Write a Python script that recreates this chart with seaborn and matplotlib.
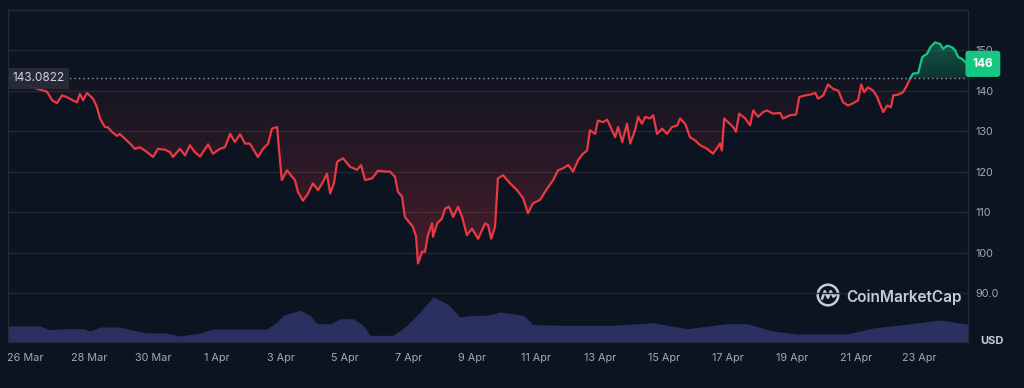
import numpy as np
import pandas as pd
import matplotlib.pyplot as plt
import matplotlib.colors as mcolors
import seaborn as sns
from matplotlib.path import Path
from matplotlib.patches import Circle

# price, days counted from 26 Mar 00:00
days = [-0.47, -0.38, -0.28, 0.00, 0.41, 0.69, 0.85, 1.00, 1.16, 1.31, 1.47, 1.63, 1.72, 1.82, 1.94,
        2.13, 2.25, 2.35, 2.50, 2.60, 2.72, 2.88, 2.97, 3.13, 3.29, 3.44, 3.60, 3.82, 4.01, 4.16,
        4.38, 4.54, 4.63, 4.85, 5.01, 5.16, 5.32, 5.48, 5.73, 5.88, 6.10, 6.26, 6.42, 6.57, 6.73,
        6.89, 7.04, 7.29, 7.45, 7.61, 7.73, 7.89, 7.98, 8.04, 8.20, 8.36, 8.45, 8.54, 8.70, 8.86,
        9.01, 9.17, 9.33, 9.45, 9.55, 9.67, 9.77, 9.95, 10.17, 10.39, 10.52, 10.64, 10.86, 11.05,
        11.27, 11.42, 11.58, 11.67, 11.80, 11.89, 12.05, 12.14, 12.24, 12.30, 12.43, 12.52, 12.61,
        12.74, 12.77, 12.90, 13.05, 13.15, 13.27, 13.40, 13.55, 13.68, 13.83, 13.99, 14.18, 14.40,
        14.49, 14.59, 14.71, 14.80, 14.96, 15.18, 15.40, 15.59, 15.74, 15.90, 16.12, 16.34, 16.53,
        16.68, 16.84, 17.00, 17.15, 17.31, 17.46, 17.59, 17.68, 17.84, 17.93, 18.09, 18.22, 18.37,
        18.47, 18.56, 18.69, 18.84, 18.94, 19.09, 19.19, 19.31, 19.41, 19.56, 19.66, 19.78, 19.94,
        20.09, 20.25, 20.41, 20.50, 20.66, 20.81, 20.97, 21.13, 21.35, 21.53, 21.75, 21.81, 21.88,
        22.00, 22.16, 22.25, 22.35, 22.54, 22.69, 22.79, 22.94, 23.10, 23.22, 23.41, 23.63, 23.72,
        23.94, 24.13, 24.23, 24.41, 24.57, 24.73, 24.82, 24.98, 25.13, 25.29, 25.45, 25.60, 25.76,
        25.92, 26.07, 26.17, 26.26, 26.38, 26.54, 26.67, 26.73, 26.86, 26.98, 27.10, 27.17, 27.32,
        27.48, 27.60, 27.70, 27.79, 27.95, 28.08, 28.23, 28.33, 28.48, 28.64, 28.73, 28.86, 29.01,
        29.11, 29.20, 29.33, 29.48]
price = [143.08, 143.9, 143.08, 141.5, 140.5, 139.8, 137.7, 137.0, 138.9, 138.5, 137.8, 137.2, 139.3,
         137.7, 139.5, 138.1, 136.1, 133.2, 131.1, 131.0, 129.9, 128.9, 129.4, 128.2, 127.0, 125.7,
         126.1, 124.9, 123.7, 125.7, 125.5, 124.9, 123.7, 125.7, 124.1, 126.6, 124.9, 123.8, 126.8,
         124.5, 125.7, 126.1, 129.4, 127.4, 129.3, 127.0, 127.0, 123.7, 125.7, 127.0, 130.7, 131.1,
         122.9, 118.0, 120.4, 118.8, 118.0, 115.1, 112.9, 114.7, 117.2, 115.5, 117.6, 119.6, 114.7,
         117.2, 122.5, 123.4, 121.3, 120.5, 121.7, 118.0, 118.4, 120.3, 120.1, 120.1, 118.8, 115.1,
         113.9, 108.9, 107.3, 106.5, 104.0, 97.4, 100.3, 100.3, 104.4, 107.3, 104.0, 107.3, 108.5,
         111.0, 111.4, 108.9, 111.4, 108.9, 104.4, 106.0, 103.5, 107.3, 106.9, 103.5, 106.5, 118.4,
         119.2, 117.2, 115.5, 113.5, 109.8, 112.3, 113.1, 115.9, 118.0, 120.4, 120.9, 121.7, 120.1,
         122.9, 124.5, 125.3, 130.3, 129.4, 132.7, 132.3, 132.9, 130.3, 128.6, 131.1, 127.4, 131.9,
         127.0, 130.3, 133.6, 131.9, 133.6, 133.2, 134.0, 129.4, 130.7, 129.4, 131.1, 131.5, 133.2,
         131.9, 128.6, 127.8, 126.6, 125.7, 124.5, 127.0, 125.3, 133.2, 132.3, 131.1, 129.9, 134.4,
         133.2, 131.5, 135.2, 133.6, 134.8, 135.2, 134.4, 134.6, 133.2, 134.0, 134.2, 138.5, 138.9,
         139.1, 139.5, 138.1, 138.9, 141.6, 140.5, 140.1, 137.2, 136.4, 137.0, 137.7, 141.6, 139.7,
         140.9, 140.1, 138.5, 137.2, 134.8, 136.4, 136.0, 138.9, 139.1, 139.7, 141.4, 143.08, 144.3,
         144.4, 148.4, 149.2, 150.8, 152.0, 151.6, 150.4, 151.2, 150.8, 150.0, 148.4, 147.9, 146.7]

open_price = 143.0822
last_label = "146"

vol_days = [-0.56, 0.47, 0.78, 1.31, 1.82, 2.03, 2.35, 2.97, 3.38, 3.82, 4.44, 4.85, 5.48, 5.88,
            7.57, 7.89, 8.08, 8.61, 8.92, 9.14, 9.55, 9.86, 10.27, 10.58, 10.80, 11.52, 11.96,
            12.36, 12.77, 13.21, 13.62, 14.02, 14.46, 14.87, 15.59, 15.90, 16.84, 18.40, 19.66,
            20.72, 21.97, 22.60, 23.41, 24.16, 25.73, 26.54, 27.39, 28.64, 29.51]
volume = [16, 16, 12.3, 13.3, 13.3, 11, 15, 15, 11.7, 9, 9, 6, 9, 13,
          13, 20, 26.7, 31.7, 26.7, 18.3, 18.3, 23.3, 23.3, 16.7, 6.7, 6.7, 16.7,
          30, 45, 38.3, 25, 26.7, 26.7, 30, 26.7, 17.3, 16.7, 16.7, 19.3,
          13.3, 18.3, 18.3, 11, 8, 8, 14, 17, 22, 17.7]

tick_days = [0, 2, 4, 6, 8, 10, 12, 14, 16, 18, 20, 22, 24, 26, 28]
tick_labels = ["26 Mar", "28 Mar", "30 Mar", "1 Apr", "3 Apr", "5 Apr", "7 Apr", "9 Apr",
               "11 Apr", "13 Apr", "15 Apr", "17 Apr", "19 Apr", "21 Apr", "23 Apr"]
price_ticks = [90, 100, 110, 120, 130, 140, 150]
price_tick_labels = ["90.0", "100", "110", "120", "130", "140", "150"]

BG = "#0d1421"
GRID = "#222632"
RED = "#ea3943"
GREEN = "#16c784"
TXT = "#a1a7bb"

sns.set_style("dark", rc={"axes.facecolor": BG, "figure.facecolor": BG})
plt.rcParams["font.family"] = ["Inter", "DejaVu Sans"]

df = pd.DataFrame({"day": days, "price": price})
d = df["day"].to_numpy()
p = df["price"].to_numpy()

fig = plt.figure(figsize=(10.24, 3.88), dpi=100)
ax = fig.add_axes([8 / 1024, 46 / 388, 960 / 1024, 332 / 388])
XL = (-0.53, 29.51)
YL = (78, 160)

# volume underneath
ax2 = ax.twinx()
ax2.fill_between(vol_days, volume, 0, color="#2a3060", lw=0, zorder=1)
ax2.set_ylim(0, 332)
ax2.set_yticks([])
for s in ax2.spines.values():
    s.set_visible(False)
ax.set_zorder(ax2.get_zorder() + 1)
ax.patch.set_visible(False)
ax2.patch.set_facecolor(BG)
ax2.patch.set_visible(True)
fig.patch.set_facecolor(BG)


def gradient_fill(coll, color, y0, y1, a0, a1):
    g = np.zeros((256, 1, 4))
    g[..., :3] = mcolors.to_rgb(color)
    g[:, 0, 3] = np.linspace(a0, a1, 256)
    im = ax.imshow(g, extent=[XL[0], XL[1], y0, y1], origin="lower", aspect="auto",
                   zorder=1, interpolation="bilinear")
    path = Path.make_compound_path(*coll.get_paths())
    im.set_clip_path(path, transform=ax.transData)


below = ax.fill_between(d, p, open_price, where=p <= open_price + 0.01, interpolate=True,
                        facecolor="none", edgecolor="none")
gradient_fill(below, RED, 96, open_price, 0.27, 0.03)
above = ax.fill_between(d, p, open_price, where=p >= open_price - 0.01, interpolate=True,
                        facecolor="none", edgecolor="none")
gradient_fill(above, GREEN, open_price, 152.5, 0.18, 0.38)


def runs(mask):
    idx = np.flatnonzero(mask)
    if len(idx) == 0:
        return []
    groups = np.split(idx, np.where(np.diff(idx) > 1)[0] + 1)
    return [(max(g[0] - 1, 0), min(g[-1] + 1, len(mask) - 1)) for g in groups]


for a, b in runs(p < open_price - 0.05):
    sns.lineplot(x=d[a:b + 1], y=p[a:b + 1], color=RED, lw=1.6, ax=ax, sort=False, zorder=3)
for a, b in runs(p > open_price + 0.05):
    sns.lineplot(x=d[a:b + 1], y=p[a:b + 1], color=GREEN, lw=1.6, ax=ax, sort=False, zorder=3)

# open price reference
ax.axhline(open_price, xmin=57 / 960, xmax=1, color="#9aa0ad", lw=1, ls=(0, (1, 2.2)), zorder=2)
ax.text(0.005, open_price, "143.0822", transform=ax.get_yaxis_transform(), ha="left", va="center",
        fontsize=8.5, color="#cfd3dc", zorder=5,
        bbox=dict(boxstyle="square,pad=0.35", fc="#272c37", ec="none", alpha=0.95))
ax.text(1.0155, 146.7, last_label, transform=ax.get_yaxis_transform(), ha="center", va="center",
        fontsize=8.5, color="white", fontweight="bold", zorder=5, clip_on=False,
        bbox=dict(boxstyle="round,pad=0.6,rounding_size=0.25", fc=GREEN, ec="none"))

ax.set_xlim(*XL)
ax.set_ylim(*YL)
ax.set_xticks(tick_days)
ax.set_xticklabels(tick_labels)
ax.yaxis.tick_right()
ax.set_yticks(price_ticks)
ax.set_yticklabels(price_tick_labels)
ax.tick_params(axis="x", length=0, pad=8, labelsize=7.8, colors=TXT)
ax.tick_params(axis="y", length=0, pad=5, labelsize=7.8, colors=TXT)
ax.grid(axis="y", color=GRID, lw=1)
ax.grid(axis="x", visible=False)
ax.set_xlabel("")
ax.set_ylabel("")
for s in ax.spines.values():
    s.set_visible(True)
    s.set_color("#262a35")
    s.set_linewidth(1)

fig.text(980 / 1024, 1 - 341 / 388, "USD", fontsize=8, fontweight="bold", color="#c8ccd4",
         ha="left", va="center")

# watermark
fig.text(846 / 1024, 1 - 297 / 388, "CoinMarketCap", fontsize=11, fontweight="semibold",
         color="#c8ccd4", ha="left", va="center")
lax = fig.add_axes([815 / 1024, 1 - 308 / 388, 26 / 1024, 26 / 388])
lax.set_xlim(-1.2, 1.2)
lax.set_ylim(-1.2, 1.2)
lax.set_aspect("equal")
lax.axis("off")
lax.add_patch(Circle((0, 0), 0.95, fill=False, ec="#c8ccd4", lw=1.8))
lax.plot([-0.55, -0.3, 0.0, 0.25, 0.5, 0.7], [-0.35, 0.35, -0.25, 0.35, -0.15, 0.0],
         color="#c8ccd4", lw=1.8, solid_joinstyle="round")

fig.savefig("out.png", dpi=100, facecolor=BG)
